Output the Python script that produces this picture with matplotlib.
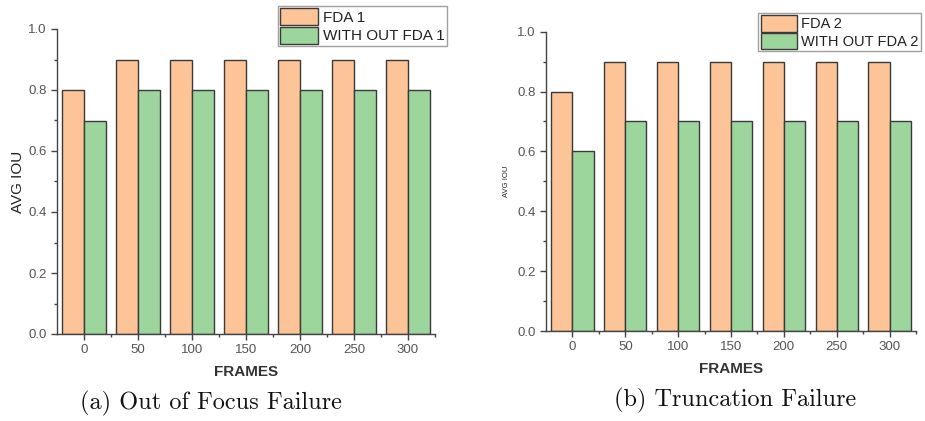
import matplotlib
matplotlib.use("Agg")
import matplotlib.pyplot as plt
import numpy as np
from matplotlib.ticker import MultipleLocator, FormatStrFormatter

frames = ["0", "50", "100", "150", "200", "250", "300"]
fda1 = [0.8, 0.9, 0.9, 0.9, 0.9, 0.9, 0.9]
without_fda1 = [0.7, 0.8, 0.8, 0.8, 0.8, 0.8, 0.8]
fda2 = [0.8, 0.9, 0.9, 0.9, 0.9, 0.9, 0.9]
without_fda2 = [0.6, 0.7, 0.7, 0.7, 0.7, 0.7, 0.7]

ORANGE = "#FDC597"
GREEN = "#9DD69D"
EDGE = "#3a3a3a"
TICKC = "#555555"
SANS = "Liberation Sans"

fig = plt.figure(figsize=(9.25, 4.21), dpi=100)

def panel(rect, a, b, la, lb, ylab_size, ylab_pad, leg_anchor, leg_size, cap, cap_xy):
    ax = fig.add_axes(rect)
    x = np.arange(len(frames))
    w = 0.4
    h1 = ax.bar(x - w / 2, a, w, color=ORANGE, edgecolor=EDGE, linewidth=1.0, label=la)
    h2 = ax.bar(x + w / 2, b, w, color=GREEN, edgecolor=EDGE, linewidth=1.0, label=lb)
    ax.set_xlim(-0.5, len(frames) - 0.5)
    ax.set_ylim(0, 1.0)
    ax.set_xticks(x)
    ax.set_xticklabels(frames)
    ax.set_xticks(x + 0.5, minor=True)
    ax.yaxis.set_major_locator(MultipleLocator(0.2))
    ax.yaxis.set_minor_locator(MultipleLocator(0.1))
    ax.yaxis.set_major_formatter(FormatStrFormatter("%.1f"))
    for s in ["top", "right"]:
        ax.spines[s].set_visible(False)
    for s in ["left", "bottom"]:
        ax.spines[s].set_color("#444444")
        ax.spines[s].set_linewidth(1.0)
    ax.tick_params(axis="both", which="major", direction="out", length=4, width=1,
                   colors="#444444", labelcolor=TICKC, labelsize=9.5)
    ax.tick_params(axis="both", which="minor", direction="out", length=2.5, width=1,
                   colors="#444444")
    for t in ax.get_xticklabels() + ax.get_yticklabels():
        t.set_fontfamily(SANS)
    ax.set_ylabel("AVG IOU", fontsize=ylab_size, fontfamily=SANS, color="#222222",
                  labelpad=ylab_pad)
    ax.set_xlabel("FRAMES", fontsize=11, fontfamily=SANS, color="#333333",
                  fontweight="bold", labelpad=6)
    leg = fig.legend(handles=[h1, h2], loc="upper right", bbox_to_anchor=leg_anchor,
                     bbox_transform=fig.transFigure, frameon=True, fancybox=False,
                     prop={"family": SANS, "size": leg_size}, handlelength=2.5,
                     handleheight=1.35, handletextpad=0.3, borderpad=0.15,
                     labelspacing=0.08, borderaxespad=0)
    leg.get_frame().set_edgecolor("#888888")
    leg.get_frame().set_linewidth(1.0)
    for t in leg.get_texts():
        t.set_color("#222222")
    fig.text(cap_xy[0], cap_xy[1], cap, ha="center", va="center",
             fontfamily="cmr10", fontsize=17.5, color="#111111")
    return ax

panel([57 / 925, 1 - 334 / 421, 378 / 925, 305 / 421], fda1, without_fda1,
      "FDA 1", "WITH OUT FDA 1", 11, 2, (447 / 925, 1 - 6 / 421), 11,
      "(a) Out of Focus Failure", (211 / 925, 1 - 403 / 421))
panel([546 / 925, 1 - 331 / 421, 370 / 925, 299.3 / 421], fda2, without_fda2,
      "FDA 2", "WITH OUT FDA 2", 5.5, 5, (921 / 925, 1 - 13 / 421), 10.5,
      "(b) Truncation Failure", (735 / 925, 1 - 400 / 421))

fig.savefig("out.png", dpi=100)
